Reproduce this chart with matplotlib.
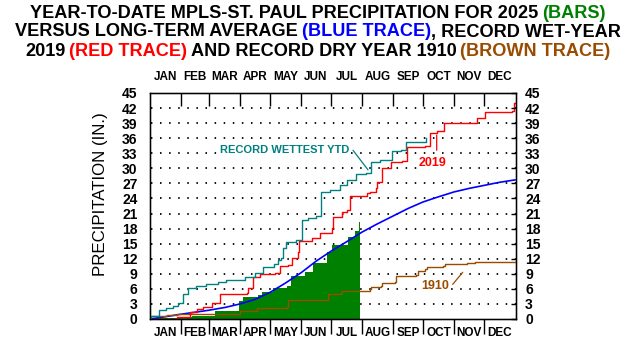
import numpy as np
import matplotlib
matplotlib.use('Agg')
import matplotlib.pyplot as plt

plt.rcParams['lines.scale_dashes'] = False

# ---------------- data ----------------
months = ['JAN', 'FEB', 'MAR', 'APR', 'MAY', 'JUN', 'JUL', 'AUG', 'SEP', 'OCT', 'NOV', 'DEC']
month_starts = [0, 31, 59, 90, 120, 151, 181, 212, 243, 273, 304, 334, 365]
y_ticks = [0, 3, 6, 9, 12, 15, 18, 21, 24, 27, 30, 33, 36, 39, 42, 45]
grid_levels = [3, 6, 9, 12, 15, 18, 21, 24, 27, 30, 33, 36, 39, 42]

# 2025 year-to-date (bars), day of year -> cumulative inches
days_2025 = [0, 27, 42, 65, 89, 93, 108, 112, 123, 137, 141, 155, 163, 177, 182, 198, 205, 209, 210]
precip_2025 = [0.1, 0.35, 0.6, 1.5, 3.5, 4.3, 4.8, 5.4, 6.1, 6.6, 8.6, 9.4, 11.1, 13.4, 14.7, 16.4, 17.6, 19.4, 19.4]

# long-term average (blue)
days_avg = [0, 15, 31, 45, 59, 75, 90, 105, 120, 135, 151, 166, 181, 196, 212, 227, 243, 258, 273, 288, 304, 319, 334, 349, 365]
precip_avg = [0.0, 0.45, 0.95, 1.35, 1.75, 2.3, 3.0, 3.9, 5.3, 7.1, 9.2, 11.5, 13.5, 15.3, 17.3, 18.9, 20.5, 22.0, 23.3, 24.3, 25.3, 26.0, 26.6, 27.2, 27.7]

# record wet year 2019 (red)
days_2019 = [0, 27, 40, 47, 53, 62, 70, 97, 98, 103, 110, 125, 130, 138, 142, 148, 149, 162, 170, 182, 183, 192,
             197, 200, 208, 217, 220, 226, 227, 232, 241, 252, 257, 275, 280, 287, 294, 318, 327, 335, 362, 364, 366]
precip_2019 = [0.05, 0.45, 1.45, 1.9, 2.45, 3.25, 5.0, 5.1, 6.1, 8.4, 8.9, 9.1, 10.6, 10.75, 12.1, 13.4, 15.6, 16.2,
               17.1, 18.1, 20.4, 21.4, 21.7, 24.4, 24.5, 25.1, 25.3, 26.1, 27.3, 30.0, 31.3, 31.5, 34.3, 34.4, 37.0,
               37.5, 39.0, 39.1, 40.0, 41.3, 41.5, 43.1, 43.3]

# record wettest year-to-date (teal)
days_wet = [0, 1, 9, 16, 23, 28, 33, 38, 46, 56, 68, 76, 95, 105, 113, 124, 128, 131, 133, 136, 146, 152, 158,
            166, 171, 180, 190, 197, 206, 216, 221, 230, 242, 251, 256, 274, 276]
precip_wet = [0.1, 0.6, 1.7, 2.2, 2.6, 3.1, 5.0, 6.1, 6.6, 7.0, 7.3, 7.8, 8.3, 9.2, 10.4, 11.0, 11.8, 12.2, 14.1,
              15.4, 15.7, 19.7, 20.2, 20.5, 25.3, 25.7, 26.7, 27.7, 28.8, 29.1, 31.2, 31.6, 33.4, 33.7, 35.2, 35.3, 36.0]

# record dry year 1910 (brown)
days_1910 = [0, 17, 27, 90, 107, 137, 138, 177, 178, 191, 192, 220, 221, 231, 232, 245, 246, 266, 268, 275, 277,
             293, 295, 317, 325, 366]
precip_1910 = [0.5, 0.8, 1.05, 1.5, 2.2, 2.45, 3.8, 3.85, 4.9, 5.1, 5.6, 5.9, 6.4, 6.6, 7.1, 7.3, 8.5, 8.8, 9.6,
               9.9, 10.4, 10.55, 10.95, 11.1, 11.4, 11.6]

GREEN = '#008000'
BLUE = '#0000ff'
RED = '#ff0000'
TEAL = '#008080'
BROWN = '#994c00'

# ---------------- figure ----------------
W, H = 636, 352
fig = plt.figure(figsize=(W / 100, H / 100), dpi=100)
fig.patch.set_facecolor('white')
ax = fig.add_axes([150 / W, 1 - 319 / H, 366 / W, 226 / H])
ax.set_xlim(0, 366)
ax.set_ylim(0, 45)

# dotted grid
for g in grid_levels:
    ax.hlines(g, 0, 366, colors='black', linewidth=1.3, linestyles=[(5.9, (1.1, 5.45))], zorder=1)

ax.fill_between(days_2025, precip_2025, step='post', color=GREEN, linewidth=0, zorder=2)
ax.plot(days_avg, precip_avg, color=BLUE, linewidth=1.2, zorder=3)
ax.step(days_1910, precip_1910, where='post', color=BROWN, linewidth=1.0, zorder=3)
ax.step(days_2019, precip_2019, where='post', color=RED, linewidth=1.0, zorder=4)
ax.step(days_wet, precip_wet, where='post', color=TEAL, linewidth=1.0, zorder=4)

for s in ax.spines.values():
    s.set_linewidth(1.0)
    s.set_color('black')

lab_font = dict(family='Liberation Sans', weight='bold')
mid = [(a + b) / 2 for a, b in zip(month_starts[:-1], month_starts[1:])]

# bottom month axis
ax.set_xticks(month_starts[1:-1])
ax.set_xticklabels([])
ax.set_xticks(mid, minor=True)
ax.set_xticklabels(months, minor=True, fontsize=8.5, **lab_font)
ax.tick_params(axis='x', which='major', direction='out', length=10.5, width=1.0, bottom=True, top=False)
ax.tick_params(axis='x', which='minor', length=0, pad=6)

# left y labels
ax.set_yticks(y_ticks)
ax.set_yticklabels([str(v) for v in y_ticks], fontsize=10, **lab_font)
ax.tick_params(axis='y', length=0, pad=9)

# top month axis
axt = ax.twiny()
axt.set_xlim(0, 366)
axt.set_xticks(month_starts[1:-1])
axt.set_xticklabels([])
axt.set_xticks(mid, minor=True)
axt.set_xticklabels(months, minor=True, fontsize=8.5, **lab_font)
axt.tick_params(axis='x', which='major', direction='in', length=9, width=1.0)
axt.tick_params(axis='x', which='minor', length=0, pad=7.5)

# right y axis
axr = ax.twinx()
axr.set_ylim(0, 45)
axr.set_yticks(y_ticks)
axr.set_yticklabels([str(v) for v in y_ticks], fontsize=10, **lab_font)
axr.tick_params(axis='y', direction='in', length=3.8, width=1.0, pad=6.5)

# y label
fig.text(101 / W, 1 - 194 / H, 'PRECIPITATION (IN.)', rotation=90, ha='center', va='center',
         fontsize=12.2, family='Liberation Sans')

# annotations
ann_font = dict(family=['Liberation Sans Narrow', 'Liberation Sans'], weight='bold')
wbox = dict(facecolor='white', edgecolor='none', pad=0.5)
ax.text(134.5, 33.65, 'RECORD WETTEST YTD', color=TEAL, fontsize=8, ha='center', va='center',
        bbox=wbox, zorder=5, **ann_font)
ax.annotate('', xy=(218, 29.7), xytext=(203, 33.6),
            arrowprops=dict(arrowstyle='-', color=TEAL, lw=0.9, shrinkA=0, shrinkB=0))
ax.text(282.5, 31.0, '2019', color=RED, fontsize=9, ha='center', va='center', bbox=wbox, zorder=5, **ann_font)
ax.annotate('', xy=(286.7, 36.6), xytext=(286.7, 33.6),
            arrowprops=dict(arrowstyle='-', color=RED, lw=0.9, shrinkA=0, shrinkB=0))
ax.text(285, 6.55, '1910', color=BROWN, fontsize=9, ha='center', va='center', bbox=wbox, zorder=5, **ann_font)
ax.annotate('', xy=(312.7, 9.3), xytext=(302.7, 6.9),
            arrowprops=dict(arrowstyle='-', color=BROWN, lw=0.9, shrinkA=0, shrinkB=0))

# ---------------- title with coloured segments ----------------
renderer = fig.canvas.get_renderer()
title_font = dict(family='Liberation Sans', weight='bold')


def width_of(s, size):
    t = fig.text(0, 0, s, fontsize=size, **title_font)
    w = t.get_window_extent(renderer=renderer).width
    t.remove()
    return w


lines = [
    [('YEAR-TO-DATE MPLS-ST. PAUL PRECIPITATION FOR 2025', 'black', True), ('(BARS)', GREEN, False)],
    [('VERSUS LONG-TERM AVERAGE', 'black', True), ('(BLUE TRACE)', BLUE, False),
     (', RECORD WET-YEAR', 'black', False)],
    [('2019', 'black', True), ('(RED TRACE)', RED, True), ('AND RECORD DRY YEAR 1910', 'black', True),
     ('(BROWN TRACE)', BROWN, False)],
]
line_y = [13, 32, 51]

base = 12.0
w1 = width_of('YEAR-TO-DATE MPLS-ST. PAUL PRECIPITATION FOR 2025 (BARS)', base)
size = base * 574.0 / w1
space = width_of('A A', size) - width_of('AA', size)

for parts, yy in zip(lines, line_y):
    items = []
    total = 0
    for s, c, sp in parts:
        t = fig.text(0, 1 - yy / H, s, fontsize=size, color=c, ha='left', va='center', **title_font)
        w = t.get_window_extent(renderer=renderer).width
        items.append((t, w, sp))
        total += w + (space if sp else 0)
    total -= space if parts[-1][2] else 0
    x = (W - total) / 2
    for t, w, sp in items:
        t.set_x(x / W)
        x += w + (space if sp else 0)

fig.savefig('out.png', dpi=100, facecolor='white')
